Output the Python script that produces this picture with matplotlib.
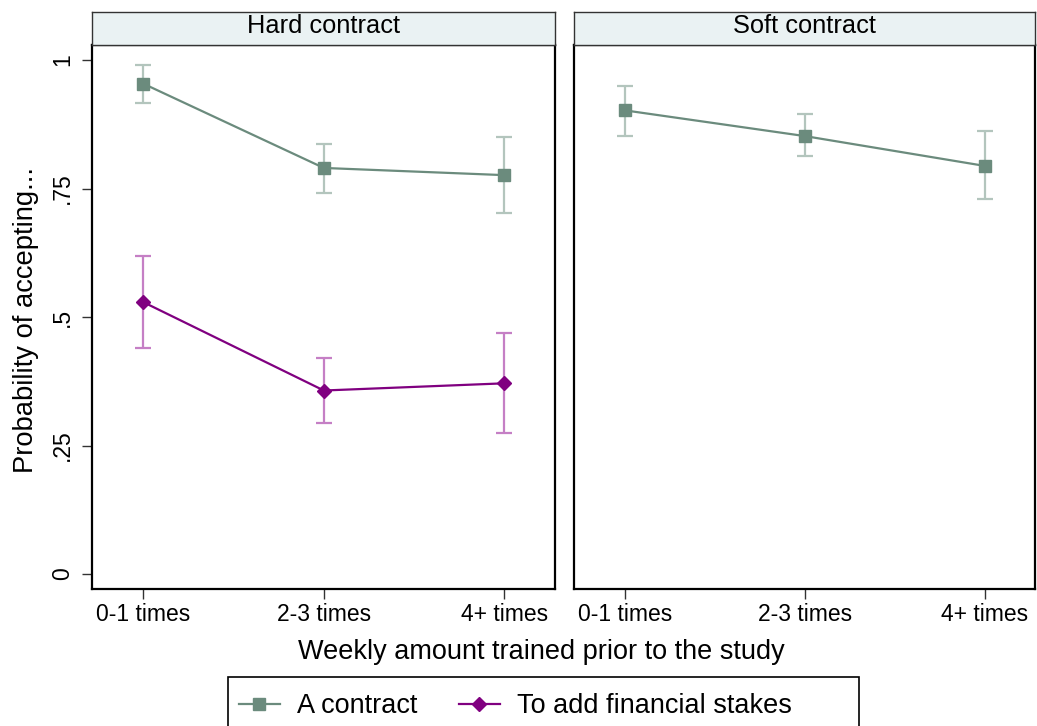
import matplotlib
matplotlib.use("Agg")
import matplotlib.pyplot as plt
from matplotlib.patches import Rectangle
import numpy as np

plt.rcParams['font.family'] = ['Liberation Sans', 'DejaVu Sans']

categories = ["0-1 times", "2-3 times", "4+ times"]
panels = ["Hard contract", "Soft contract"]

# Hard contract
hard_contract = [0.954, 0.790, 0.776]
hard_contract_lo = [0.917, 0.742, 0.703]
hard_contract_hi = [0.990, 0.837, 0.850]
hard_stakes = [0.529, 0.357, 0.371]
hard_stakes_lo = [0.440, 0.294, 0.275]
hard_stakes_hi = [0.619, 0.421, 0.468]

# Soft contract
soft_contract = [0.902, 0.852, 0.794]
soft_contract_lo = [0.852, 0.813, 0.729]
soft_contract_hi = [0.950, 0.894, 0.861]

yticks = [0, 0.25, 0.5, 0.75, 1]
ytick_labels = ["0", ".25", ".5", ".75", "1"]

green = "#6b8b7d"
green_ci = "#b3c5bd"
purple = "#800080"
purple_ci = "#c57fc5"

W, H = 1037, 726
fig = plt.figure(figsize=(W / 100, H / 100), dpi=100)

def fx(px):
    return px / W

def fy(py):
    return 1 - py / H

panel_x = [(92.3, 555.0), (574.3, 1035.0)]
plot_top, plot_bot = 45.0, 588.5
strip_top = 12.0

x = np.arange(1, len(categories) + 1)

def draw_series(ax, vals, lo, hi, col, cicol, marker, ms):
    vals = np.array(vals); lo = np.array(lo); hi = np.array(hi)
    ax.errorbar(x, vals, yerr=[vals - lo, hi - vals], fmt='none', ecolor=cicol,
                elinewidth=1.6, capsize=6, capthick=1.6, zorder=2)
    ax.plot(x, vals, color=col, lw=1.6, marker=marker, ms=ms, mfc=col, mec=col, zorder=3)

axes = []
for i, (l, r) in enumerate(panel_x):
    ax = fig.add_axes([fx(l), fy(plot_bot), fx(r) - fx(l), fy(plot_top) - fy(plot_bot)])
    axes.append(ax)
    ax.set_xlim(1 - 0.282, 3 + 0.28)
    ax.set_ylim(-0.0282, 1.0292)
    ax.set_xticks(x)
    ax.set_xticklabels(categories, fontsize=16.5)
    ax.tick_params(axis='x', length=7, width=1, pad=3.5, color='#333333')
    ax.set_yticks(yticks)
    if i == 0:
        ax.set_yticklabels(ytick_labels, fontsize=16.5, rotation=90, va='center')
        ax.tick_params(axis='y', length=7, width=1, pad=6, color='#333333')
    else:
        ax.tick_params(axis='y', length=0, labelleft=False)
    for s in ax.spines.values():
        s.set_linewidth(1.6)
        s.set_color('black')
    # strip
    sax = fig.add_axes([fx(l), fy(plot_top), fx(r) - fx(l), fy(strip_top) - fy(plot_top)])
    sax.set_facecolor('#eaf2f3')
    sax.set_xticks([]); sax.set_yticks([])
    for s in sax.spines.values():
        s.set_linewidth(1.0)
        s.set_color('#333333')
    sax.text(0.5, 0.59, panels[i], ha='center', va='center', fontsize=18.3,
             transform=sax.transAxes)

draw_series(axes[0], hard_contract, hard_contract_lo, hard_contract_hi, green, green_ci, 's', 8)
draw_series(axes[0], hard_stakes, hard_stakes_lo, hard_stakes_hi, purple, purple_ci, 'D', 7)
draw_series(axes[1], soft_contract, soft_contract_lo, soft_contract_hi, green, green_ci, 's', 8)

fig.text(fx(26), fy(320), "Probability of accepting...", rotation=90, ha='center',
         va='center', fontsize=19.7)
fig.text(fx(541.7), fy(652), "Weekly amount trained prior to the study", ha='center',
         va='center', fontsize=19.5)

# legend box (clipped at bottom like the reference)
fig.patches.append(Rectangle((fx(228), fy(740)), fx(859) - fx(228), fy(677) - fy(740),
                             transform=fig.transFigure, fill=False, edgecolor='black',
                             lw=1.2))
h1, = plt.plot([], [], color=green, lw=1.6, marker='s', ms=8)
h2, = plt.plot([], [], color=purple, lw=1.6, marker='D', ms=7)
fig.legend([h1, h2], ["A contract", "To add financial stakes"], ncol=2,
           loc='center left', bbox_to_anchor=(fx(239), fy(706)), frameon=False,
           fontsize=19.5, handlelength=1.5, handletextpad=0.63, columnspacing=1.55,
           borderpad=0, borderaxespad=0)

fig.savefig("out.png", dpi=100)
